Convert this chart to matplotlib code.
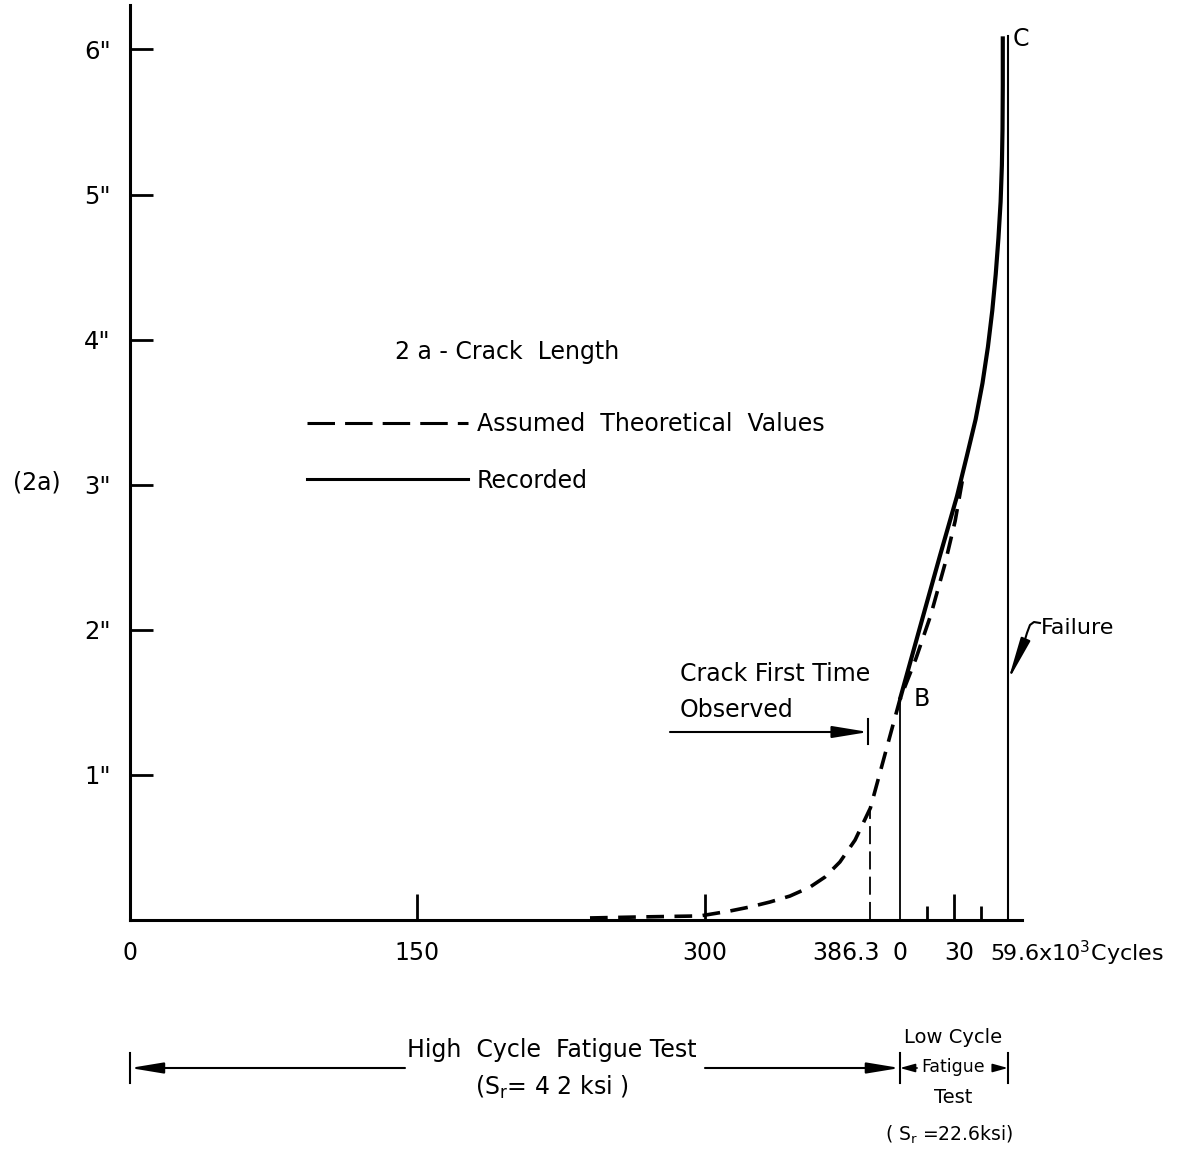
import matplotlib
matplotlib.use('Agg')
import matplotlib.pyplot as plt
from matplotlib.lines import Line2D
import numpy as np

plt.rcParams['font.family'] = ['DejaVu Sans']
plt.rcParams['mathtext.fontset'] = 'dejavusans'

# ---------------- data ----------------
high_tick_k = [150, 300]                 # high-cycle ticks (10^3 cycles)
low_major_tick_k = [30]                  # low-cycle ticks (10^3 cycles)
low_minor_tick_k = [15, 45]
high_end_k = 386.3                        # crack first observed
low_end_k = 59.6                          # failure
y_tick_vals = [1, 2, 3, 4, 5, 6]
y_tick_labels = ['1"', '2"', '3"', '4"', '5"', '6"']

# assumed theoretical crack length (inches) vs cycles (10^3)
theory_high_k = [240.0, 266.1, 297.4, 313.0, 323.5, 333.9, 344.3, 354.8, 362.6,
                 370.4, 378.3, 386.3]
theory_high_in = [0.014, 0.021, 0.028, 0.062, 0.090, 0.124, 0.165, 0.227, 0.296,
                  0.400, 0.551, 0.772]
theory_low_k = [0.0, 8.8, 17.0, 24.8, 30.5, 34.5]
theory_low_in = [1.52, 1.80, 2.10, 2.45, 2.75, 3.03]

# recorded crack length during low cycle fatigue test
rec_low_k = [0.0, 12.7, 22.1, 31.5, 37.0, 41.8, 45.6, 48.6, 51.0, 52.9, 54.4, 55.6,
             56.3, 56.65, 56.8, 56.8]
rec_low_in = [1.52, 2.09, 2.51, 2.92, 3.20, 3.45, 3.70, 3.95, 4.20, 4.45, 4.70, 4.95,
              5.20, 5.45, 5.75, 6.09]

# ---------------- layout ----------------
W, H = 1181, 1153
LOW_ORIGIN = 401.7     # where the low-cycle scale starts, on the high-cycle scale
LOW_SCALE = 0.945      # high-scale units per low-cycle kcycle


def low_x(k):
    return LOW_ORIGIN + np.asarray(k, dtype=float) * LOW_SCALE


def px_x(px):
    return (np.asarray(px, dtype=float) - 130) / 1.9167


def px_y(py):
    return (920 - np.asarray(py, dtype=float)) / 145.1


fig = plt.figure(figsize=(W / 100, H / 100), dpi=100)
ax = fig.add_axes([130 / W, 233 / H, 892 / W, 915 / H])
ax.set_xlim(0, 465.4)
ax.set_ylim(0, 6.306)
for s in ['top', 'right']:
    ax.spines[s].set_visible(False)
for s in ['left', 'bottom']:
    ax.spines[s].set_linewidth(2.2)

FS = 17
ax.set_yticks(y_tick_vals)
ax.set_yticklabels(y_tick_labels, fontsize=FS + 0.5)
ax.tick_params(axis='y', direction='in', length=16.5, width=2, pad=14)

ax.set_xticks(list(high_tick_k) + list(low_x(low_major_tick_k)))
ax.set_xticks(low_x(low_minor_tick_k), minor=True)
ax.tick_params(axis='x', which='major', direction='in', length=19, width=2,
               labelbottom=False)
ax.tick_params(axis='x', which='minor', direction='in', length=10, width=2,
               labelbottom=False)

# x labels
ylab = px_y(953)
ax.text(0, ylab, '0', ha='center', va='center', fontsize=FS, clip_on=False)
for k in high_tick_k:
    ax.text(k, ylab, str(k), ha='center', va='center', fontsize=FS, clip_on=False)
ax.text(high_end_k + 5, ylab, '386.3', ha='right', va='center', fontsize=FS, clip_on=False)
ax.text(low_x(0), ylab, '0', ha='center', va='center', fontsize=FS, clip_on=False)
ax.text(low_x(30) + 2.5, ylab, '30', ha='center', va='center', fontsize=FS, clip_on=False)
ax.text(low_x(low_end_k) - 9.5, ylab, '59.6x10$^{\\mathregular{3}}$Cycles', ha='left',
        va='center', fontsize=16, clip_on=False)

# curves
th_x = np.concatenate([theory_high_k, low_x(theory_low_k)])
th_y = np.concatenate([theory_high_in, theory_low_in])
ax.plot(th_x, th_y, color='black', lw=2.6, linestyle=(0, (4.9, 2.9)),
        dash_capstyle='butt', dash_joinstyle='round')
ax.plot(low_x(rec_low_k), rec_low_in, color='black', lw=3.0, solid_capstyle='butt',
        solid_joinstyle='round')

# vertical reference lines
ax.plot([high_end_k, high_end_k], [0, theory_high_in[-1]], color='black', lw=1.3,
        linestyle=(0, (10, 4)))
ax.plot([low_x(0), low_x(0)], [0, rec_low_in[0]], color='black', lw=1.3)
ax.plot([low_x(low_end_k), low_x(low_end_k)], [0, rec_low_in[-1]], color='black', lw=1.5)

# point labels
ax.text(low_x(0) + 7, 1.52, 'B', fontsize=FS, va='center', ha='left')
ax.text(low_x(low_end_k) + 2.5, 6.07, 'C', fontsize=FS, va='center', ha='left',
        clip_on=False)

# legend
ax.text(px_x(395), px_y(352), '2 a - Crack  Length', fontsize=FS,
        ha='left', va='center')
handles = [Line2D([], [], color='black', lw=2.2, linestyle=(0, (9, 3.3))),
           Line2D([], [], color='black', lw=2.2)]
ax.legend(handles, ['Assumed  Theoretical  Values', 'Recorded'], loc='upper left',
          bbox_to_anchor=(307 / W, 1 - 412 / H), bbox_transform=fig.transFigure,
          frameon=False, fontsize=FS, handlelength=6.8, handletextpad=0.38,
          labelspacing=1.38, borderpad=0, borderaxespad=0)

# (2a)
fig.text(37 / W, 1 - 483 / H, '(2a)', fontsize=FS, ha='center', va='center')

# crack first observed
ax.text(px_x(680), px_y(674), 'Crack First Time', fontsize=FS, ha='left', va='center')
ax.text(px_x(680), px_y(710), 'Observed', fontsize=FS, ha='left', va='center')
y_obs = px_y(732)
ax.annotate('', xy=(high_end_k - 1, y_obs), xytext=(px_x(670), y_obs),
            arrowprops=dict(arrowstyle='-|>,head_length=2.2,head_width=0.36', lw=1.5,
                            color='black', shrinkA=0, shrinkB=0))
ax.plot([high_end_k - 1, high_end_k - 1], [y_obs - 0.08, y_obs + 0.09], color='black', lw=1.5)

# failure
ax.text(px_x(1041), px_y(628), 'Failure', fontsize=FS - 1,
        ha='left', va='center', clip_on=False)
hook_px = [1040, 1034, 1030, 1027, 1024]
hook_py = [623, 622, 625, 633, 643]
ax.plot(px_x(hook_px), px_y(hook_py), color='black', lw=1.5, clip_on=False,
        solid_joinstyle='round')
ax.annotate('', xy=(low_x(low_end_k), px_y(681)), xytext=(px_x(1024), px_y(643)),
            arrowprops=dict(arrowstyle='-|>,head_length=2.6,head_width=0.3', lw=1.5,
                            color='black', shrinkA=0, shrinkB=0),
            annotation_clip=False)

# bottom spans
y_arr = px_y(1068)
bar = [px_y(1053), px_y(1083)]
for xb in [0, low_x(0), low_x(low_end_k)]:
    ax.plot([xb, xb], bar, color='black', lw=1.5, clip_on=False)
ap = dict(arrowstyle='-|>,head_length=2.0,head_width=0.33', lw=1.5, color='black',
          shrinkA=0, shrinkB=0)
ax.annotate('', xy=(0, y_arr), xytext=(px_x(405), y_arr), arrowprops=ap,
            annotation_clip=False)
ax.annotate('', xy=(low_x(0), y_arr), xytext=(px_x(705), y_arr), arrowprops=ap,
            annotation_clip=False)
ap2 = dict(arrowstyle='-|>,head_length=0.9,head_width=0.25', lw=1.2, color='black',
           shrinkA=0, shrinkB=0)
ax.annotate('', xy=(low_x(0), y_arr), xytext=(low_x(9.5), y_arr), arrowprops=ap2,
            annotation_clip=False)
ax.annotate('', xy=(low_x(low_end_k), y_arr), xytext=(low_x(52.0), y_arr), arrowprops=ap2,
            annotation_clip=False)

ax.text(px_x(552), px_y(1050), 'High  Cycle  Fatigue Test', fontsize=FS,
        ha='center', va='center', clip_on=False)
ax.text(px_x(552), px_y(1087), '(S$_{\\mathregular{r}}$= 4 2 ksi )', fontsize=FS,
        ha='center', va='center', clip_on=False)
xl = low_x(29.5)
ax.text(xl, px_y(1038), 'Low Cycle', fontsize=14, ha='center', va='center', clip_on=False)
ax.text(xl, px_y(1067), 'Fatigue', fontsize=12.5, ha='center', va='center', clip_on=False)
ax.text(xl, px_y(1098), 'Test', fontsize=14, ha='center', va='center', clip_on=False)
ax.text(low_x(27), px_y(1135), '( S$_{\\mathregular{r}}$ =22.6ksi)', fontsize=13.5,
        ha='center', va='center', clip_on=False)

fig.savefig('out.png', dpi=100)
